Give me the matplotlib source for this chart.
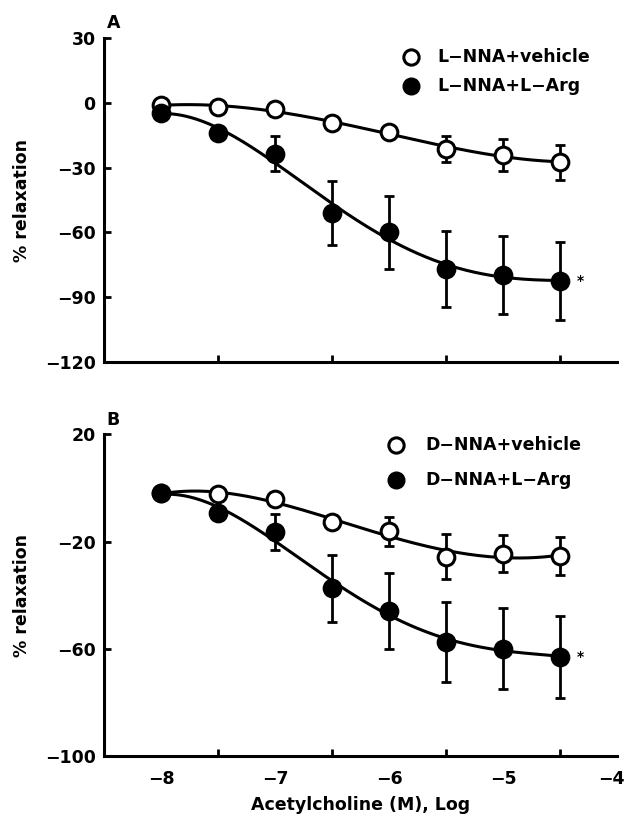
import numpy as np
import matplotlib.pyplot as plt

plt.rcParams['font.family'] = ['DejaVu Sans']
plt.rcParams['font.weight'] = 'bold'

# acetylcholine concentration, log M
log_ach = [-8, -7.5, -7, -6.5, -6, -5.5, -5, -4.5]

# panel A
a_veh = [-1, -2, -3, -9.5, -13.5, -21.5, -24, -27.5]
a_veh_err = [0, 0, 0, 0, 0, 6, 7.4, 8]
a_arg = [-4.5, -14, -23.5, -51, -60, -77, -79.5, -82.5]
a_arg_err = [0, 0, 8, 15, 16.7, 17.7, 18, 18]

# panel B
b_veh = [-2, -2.4, -4.3, -12.7, -16.2, -25.7, -24.5, -25.4]
b_veh_err = [0, 0, 0, 0, 5.3, 8.4, 7, 7.1]
b_arg = [-2, -9.2, -16.4, -37.5, -45.9, -57.4, -59.9, -63]
b_arg_err = [0, 0, 6.6, 12.6, 14.2, 15, 15.2, 15.2]

panels = [
    dict(label="A", veh=a_veh, veh_err=a_veh_err, arg=a_arg, arg_err=a_arg_err,
         names=["L\u2212NNA+vehicle", "L\u2212NNA+L\u2212Arg"],
         ylim=(-120, 30), yticks=[30, 0, -30, -60, -90, -120],
         leg_y=(21, 8), leg_x=(-5.81, -5.58)),
    dict(label="B", veh=b_veh, veh_err=b_veh_err, arg=b_arg, arg_err=b_arg_err,
         names=["D\u2212NNA+vehicle", "D\u2212NNA+L\u2212Arg"],
         ylim=(-100, 20), yticks=[20, -20, -60, -100],
         leg_y=(15.9, 2.9), leg_x=(-5.94, -5.68)),
]

FS = 12.5

fig = plt.figure(figsize=(6.26, 8.25), dpi=100)
rects = [[0.166, 0.561, 0.820, 0.393], [0.166, 0.0836, 0.820, 0.390]]

x = np.array(log_ach)
xs = np.linspace(-8, -4.5, 200)

for rect, p in zip(rects, panels):
    ax = fig.add_axes(rect)
    for y, err, face in [(p["veh"], p["veh_err"], "white"), (p["arg"], p["arg_err"], "black")]:
        coef = np.polyfit(x, y, 4)
        ax.plot(xs, np.polyval(coef, xs), color="black", lw=2.2, zorder=2)
        ax.errorbar(x, y, yerr=err, fmt="none", ecolor="black", elinewidth=2,
                    capsize=3.5, capthick=2, zorder=1)
        ax.plot(x, y, "o", ms=12, mfc=face, mec="black", mew=2.2, zorder=3)
    # significance mark
    ax.text(-4.32, p["arg"][-1], "*", fontsize=10, fontweight="bold",
            ha="center", va="center")
    # legend
    ax.plot(p["leg_x"][0], p["leg_y"][0], "o", ms=11, mfc="white", mec="black", mew=2.2,
            clip_on=False)
    ax.plot(p["leg_x"][0], p["leg_y"][1], "o", ms=12, mfc="black", mec="black",
            clip_on=False)
    for yy, name in zip(p["leg_y"], p["names"]):
        ax.text(p["leg_x"][1], yy, name, fontsize=FS, fontweight="bold", va="center")

    ax.set_xlim(-8.5, -4)
    ax.set_ylim(*p["ylim"])
    ax.set_yticks(p["yticks"])
    ax.set_yticklabels([str(t).replace("-", "\u2212") for t in p["yticks"]])
    ax.set_xticks(log_ach + [-4], minor=True)
    ax.set_xticks([-8, -7, -6, -5, -4])
    ax.tick_params(axis="both", which="both", direction="in", width=2, length=5,
                   labelsize=FS)
    ax.tick_params(axis="x", which="major", length=0, pad=10)
    ax.tick_params(axis="y", pad=6)
    for side in ["top", "right"]:
        ax.spines[side].set_visible(False)
    for side in ["left", "bottom"]:
        ax.spines[side].set_linewidth(2.2)
    ax.set_ylabel("% relaxation", fontsize=FS, fontweight="bold", labelpad=10)
    ax.text(0.005, 1.045, p["label"], transform=ax.transAxes, fontsize=FS,
            fontweight="bold", ha="left", va="center")
    if p["label"] == "A":
        ax.set_xticklabels([])
    else:
        ax.set_xticklabels(["\u22128", "\u22127", "\u22126", "\u22125", ""])
        # last label sits at the figure edge
        ax.annotate("\u22124", xy=(-4, 0), xycoords=("data", "axes fraction"),
                    xytext=(5, -10), textcoords="offset points",
                    ha="right", va="top", fontsize=FS, fontweight="bold")
        ax.set_xlabel("Acetylcholine (M), Log", fontsize=FS, fontweight="bold", labelpad=6)

fig.savefig("out.png", dpi=100)
